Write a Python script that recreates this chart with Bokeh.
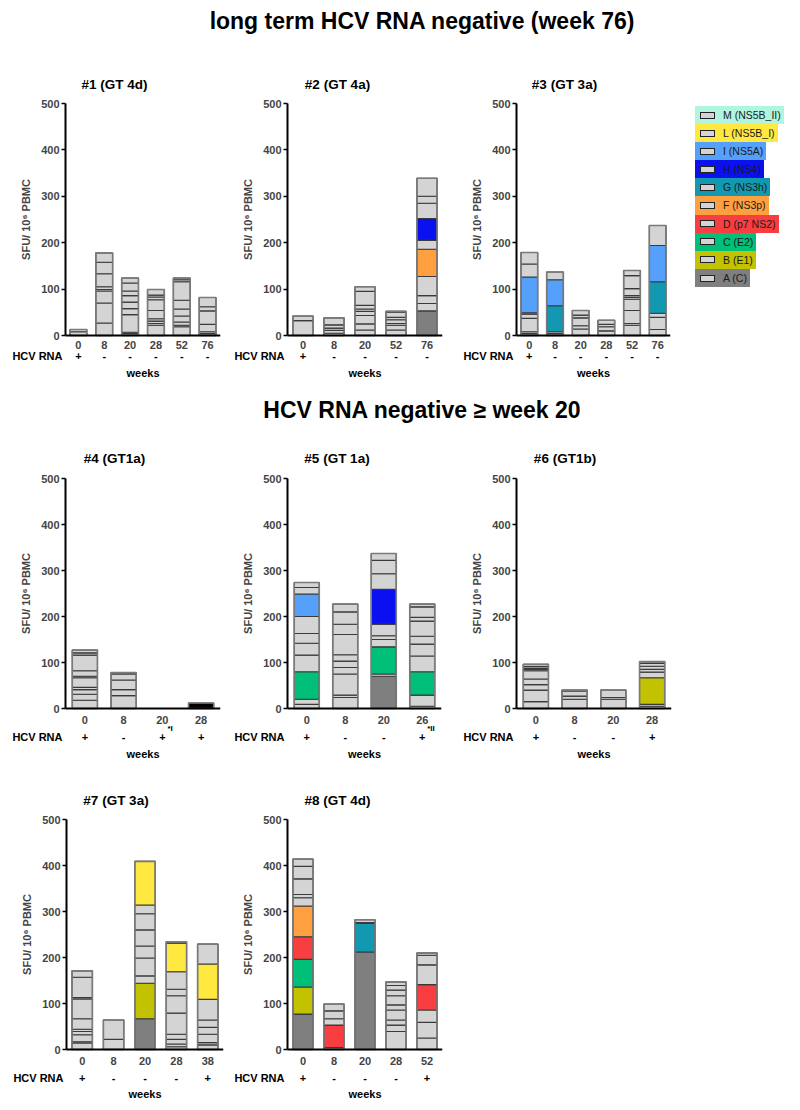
from bokeh.plotting import figure
from bokeh.models import Range1d, FixedTicker, LinearAxis, Div, ColumnDataSource
from bokeh.layouts import column, row
from bokeh.embed import file_html
from bokeh.resources import INLINE
from bokeh.core.properties import value

FONT = "Liberation Sans"

# ---------------- data ----------------
TITLE_1 = "long term HCV RNA negative (week 76)"
TITLE_2 = "HCV RNA negative \u2265 week 20"
Y_LABEL = "SFU/ 10\u2076 PBMC"
Y_TICKS = [0, 100, 200, 300, 400, 500]
X_TITLE = "weeks"
RNA_TITLE = "HCV RNA"

LEGEND_KEYS = ["M", "L", "I", "H", "G", "F", "D", "C", "B", "A"]
LEGEND_LABELS = ["M (NS5B_II)", "L (NS5B_I)", "I (NS5A)", "H (NS4)", "G (NS3h)",
                 "F (NS3p)", "D (p7 NS2)", "C (E2)", "B (E1)", "A (C)"]

# each bar: list of (segment top, antigen key); "-" = non-assigned pool
P1_NAME = "#1 (GT 4d)"
P1_WEEKS = ["0", "8", "20", "28", "52", "76"]
P1_RNA = ["+", "-", "-", "-", "-", "-"]
P1_BARS = [
    [(8, "-"), (13, "-")],
    [(27, "-"), (70, "-"), (96, "-"), (99, "-"), (105, "-"), (133, "-"), (158, "-"), (178, "-")],
    [(4, "-"), (7, "-"), (45, "-"), (58, "-"), (72, "-"), (86, "-"), (96, "-"), (113, "-"), (124, "-")],
    [(22, "-"), (26, "-"), (31, "-"), (36, "-"), (54, "-"), (77, "-"), (83, "-"), (87, "-"), (99, "-")],
    [(19, "-"), (22, "-"), (29, "-"), (42, "-"), (57, "-"), (76, "-"), (116, "-"), (120, "-"), (124, "-")],
    [(4, "-"), (8, "-"), (24, "-"), (53, "-"), (62, "-"), (82, "-")],
]
P1_NOTES = {}

P2_NAME = "#2 (GT 4a)"
P2_WEEKS = ["0", "8", "20", "52", "76"]
P2_RNA = ["+", "-", "-", "-", "-"]
P2_BARS = [
    [(32, "-"), (42, "-")],
    [(5, "-"), (11, "-"), (16, "-"), (23, "-"), (38, "-")],
    [(12, "-"), (25, "-"), (43, "-"), (52, "-"), (57, "-"), (65, "-"), (95, "-"), (105, "-")],
    [(12, "-"), (22, "-"), (26, "-"), (34, "-"), (39, "-"), (50, "-"), (52, "-")],
    [(53, "A"), (69, "-"), (86, "-"), (127, "-"), (186, "F"), (205, "-"), (252, "H"), (285, "-"), (300, "-"), (339, "-")],
]
P2_NOTES = {}

P3_NAME = "#3 (GT 3a)"
P3_WEEKS = ["0", "8", "20", "28", "52", "76"]
P3_RNA = ["+", "-", "-", "-", "-", "-"]
P3_BARS = [
    [(4, "-"), (8, "-"), (37, "-"), (46, "-"), (49, "-"), (126, "I"), (154, "-"), (179, "-")],
    [(4, "-"), (8, "-"), (64, "G"), (120, "I"), (137, "-")],
    [(14, "-"), (21, "-"), (38, "-"), (44, "-"), (54, "-")],
    [(10, "-"), (19, "-"), (24, "-"), (33, "-")],
    [(22, "-"), (26, "-"), (54, "-"), (78, "-"), (82, "-"), (86, "-"), (101, "-"), (129, "-"), (140, "-")],
    [(13, "-"), (39, "-"), (48, "-"), (116, "G"), (194, "I"), (237, "-")],
]
P3_NOTES = {}

P4_NAME = "#4 (GT1a)"
P4_WEEKS = ["0", "8", "20", "28"]
P4_RNA = ["+", "-", "+", "+"]
P4_BARS = [
    [(18, "-"), (31, "-"), (41, "-"), (46, "-"), (67, "-"), (70, "-"), (82, "-"), (116, "-"), (121, "-"), (127, "-")],
    [(28, "-"), (41, "-"), (62, "-"), (75, "-"), (78, "-")],
    [],
    [(12, "X")],
]
P4_NOTES = {3: "*I"}

P5_NAME = "#5 (GT 1a)"
P5_WEEKS = ["0", "8", "20", "26"]
P5_RNA = ["+", "-", "-", "+"]
P5_BARS = [
    [(9, "-"), (20, "-"), (80, "C"), (116, "-"), (142, "-"), (163, "-"), (200, "-"), (249, "I"), (263, "-"), (274, "-")],
    [(24, "-"), (29, "-"), (75, "-"), (89, "-"), (103, "-"), (117, "-"), (161, "-"), (183, "-"), (210, "-"), (227, "-")],
    [(70, "A"), (75, "-"), (134, "C"), (150, "-"), (158, "-"), (183, "-"), (259, "H"), (293, "-"), (322, "-"), (337, "-")],
    [(5, "-"), (29, "-"), (80, "C"), (114, "-"), (140, "-"), (157, "-"), (190, "-"), (198, "-"), (221, "-"), (227, "-")],
]
P5_NOTES = {4: "*II"}

P6_NAME = "#6 (GT1b)"
P6_WEEKS = ["0", "8", "20", "28"]
P6_RNA = ["+", "-", "-", "+"]
P6_BARS = [
    [(15, "-"), (40, "-"), (52, "-"), (64, "-"), (82, "-"), (85, "-"), (87, "-"), (91, "-"), (96, "-")],
    [(20, "-"), (27, "-"), (38, "-"), (40, "-")],
    [(20, "-"), (24, "-"), (40, "-")],
    [(5, "-"), (9, "-"), (67, "B"), (79, "-"), (85, "-"), (92, "-"), (98, "-"), (102, "-")],
]
P6_NOTES = {}

P7_NAME = "#7 (GT 3a)"
P7_WEEKS = ["0", "8", "20", "28", "38"]
P7_RNA = ["+", "-", "-", "-", "+"]
P7_BARS = [
    [(14, "-"), (17, "-"), (32, "-"), (39, "-"), (44, "-"), (67, "-"), (110, "-"), (113, "-"), (157, "-"), (171, "-")],
    [(22, "-"), (64, "-")],
    [(67, "A"), (144, "B"), (160, "-"), (199, "-"), (225, "-"), (260, "-"), (295, "-"), (314, "-"), (409, "L")],
    [(6, "-"), (12, "-"), (22, "-"), (33, "-"), (79, "-"), (117, "-"), (131, "-"), (169, "-"), (231, "L"), (234, "-")],
    [(10, "-"), (15, "-"), (33, "-"), (48, "-"), (64, "-"), (109, "-"), (186, "L"), (229, "-")],
]
P7_NOTES = {}

P8_NAME = "#8 (GT 4d)"
P8_WEEKS = ["0", "8", "20", "28", "52"]
P8_RNA = ["+", "-", "-", "-", "+"]
P8_BARS = [
    [(77, "A"), (136, "B"), (196, "C"), (245, "D"), (312, "F"), (330, "-"), (337, "-"), (371, "-"), (398, "-"), (414, "-")],
    [(4, "-"), (53, "D"), (67, "-"), (84, "-"), (99, "-")],
    [(212, "A"), (274, "G"), (276, "-"), (282, "-")],
    [(39, "-"), (53, "-"), (64, "-"), (86, "-"), (97, "-"), (117, "-"), (129, "-"), (139, "-"), (147, "-")],
    [(25, "-"), (59, "-"), (86, "-"), (141, "D"), (184, "-"), (205, "-"), (210, "-")],
]
P8_NOTES = {}

# ---------------- styles ----------------
COLORS = {
    "-": "#d4d4d4", "X": "#000000",
    "A": "#7f7f7f", "B": "#c2c200", "C": "#00bf78", "D": "#f83e40",
    "F": "#ffa040", "G": "#1398b2", "H": "#0a10f0", "I": "#55a0fa",
    "L": "#ffe840", "M": "#b0f5e0",
}
TOP_PAD = 8  # px of frame kept above the 500 tick so its label is not clipped


def bold(size="11px"):
    return dict(text_font=value(FONT), text_font_size=size,
                text_font_style="bold", text_color="#000000")


def build_panel(name, weeks, rna, bars, notes, geo):
    # geo: page-pixel layout of the panel
    fig_x, axis_x, end_x, fig_w, fig_y, y500, y0, fig_h, wk_std, rna_dy, lab_dy, t_std = geo
    n = len(weeks)
    xs = list(range(1, n + 1))
    s = (end_x - axis_x) / n          # px per category
    k = (y0 - y500) / 500.0           # px per SFU
    frame_l = fig_x
    frame_b = fig_y + fig_h - 2
    x_start = 0.5 - (axis_x - frame_l) / s
    y_start = -(frame_b - y0) / k
    y_end = 500 + TOP_PAD / k

    p = figure(width=fig_w, height=fig_h,
               x_range=Range1d(x_start, n + 0.5), y_range=Range1d(y_start, y_end),
               x_axis_type=None, y_axis_type=None, toolbar_location=None,
               output_backend="svg", title=name,
               min_border_left=0, min_border_right=fig_x + fig_w - end_x,
               min_border_top=y500 - TOP_PAD - fig_y, min_border_bottom=2)
    p.outline_line_color = None
    p.title.align = "center"
    p.title.offset = (axis_x - frame_l) / 2 - 5
    p.title.standoff = t_std
    p.title.text_font = FONT
    p.title.text_font_size = "13.5px"
    p.title.text_font_style = "bold"
    p.title.text_color = "#000000"

    sx, sb, st, sc = [], [], [], []
    ox, ot = [], []
    for i, segs in enumerate(bars):
        prev = 0
        for topv, key in segs:
            sx.append(i + 1)
            sb.append(prev)
            st.append(topv)
            sc.append(COLORS[key])
            prev = topv
        if prev > 0:
            ox.append(i + 1)
            ot.append(prev)
    src = ColumnDataSource(dict(x=sx, bottom=sb, top=st, color=sc))
    p.vbar(x="x", bottom="bottom", top="top", width=0.65, fill_color="color",
           line_color="#3a3a3a", line_width=1.1, source=src)
    p.vbar(x=ox, bottom=0, top=ot, width=0.65, fill_color=None,
           line_color="#7a7a7a", line_width=1.6)

    ya = LinearAxis(ticker=FixedTicker(ticks=Y_TICKS), axis_label=Y_LABEL,
                    fixed_location=0.5, bounds=(0, 500))
    ya.axis_line_width = 2
    ya.major_tick_line_width = 1.5
    ya.major_tick_out = 4
    ya.major_tick_in = 0
    ya.minor_tick_line_color = None
    ya.major_label_standoff = 2
    ya.major_label_text_font = FONT
    ya.major_label_text_font_size = "11px"
    ya.major_label_text_font_style = "bold"
    ya.axis_label_text_font = FONT
    ya.axis_label_text_font_size = "11px"
    ya.axis_label_text_font_style = "bold"
    ya.axis_label_standoff = 6
    p.add_layout(ya, "left")

    xa = LinearAxis(ticker=FixedTicker(ticks=xs),
                    major_label_overrides={x: w for x, w in zip(xs, weeks)},
                    fixed_location=0, bounds=(0.5, n + 0.5))
    xa.major_tick_line_color = None
    xa.minor_tick_line_color = None
    xa.major_tick_out = 0
    xa.major_tick_in = 0
    xa.major_label_standoff = wk_std
    xa.major_label_text_font = FONT
    xa.major_label_text_font_size = "11px"
    xa.major_label_text_font_style = "bold"
    xa.axis_line_width = 2
    p.add_layout(xa, "below")

    y_rna = -rna_dy / k
    p.text(x=xs, y=[y_rna] * n, text=rna, text_align="center",
           text_baseline="middle", **bold())
    p.text(x=[0.5], y=[y_rna], text=[RNA_TITLE], x_offset=-3, text_align="right",
           text_baseline="middle", **bold())
    p.text(x=[(n + 1) / 2], y=[-lab_dy / k], text=[X_TITLE], text_align="center",
           text_baseline="middle", **bold())
    if notes:
        nx = list(notes.keys())
        p.text(x=nx, y=[y_rna + 8 / k] * len(nx), text=list(notes.values()),
               x_offset=5, text_align="left", text_baseline="middle", **bold("8px"))
    return p


def build_legend(width, height, pad_top):
    rows = []
    for key, lab in zip(LEGEND_KEYS, LEGEND_LABELS):
        rows.append(
            f'<div style="background:{COLORS[key]};height:18.1px;line-height:18.1px;'
            f'width:max-content;padding-right:3px;white-space:nowrap;">'
            f'<span style="display:inline-block;box-sizing:border-box;width:15px;height:7px;'
            f'border:1px solid #222;background:#d4d4d4;margin-left:5px;margin-right:8px;'
            f'vertical-align:middle;position:relative;top:-1px;"></span>{lab}</div>')
    html = (f'<div style="padding-top:{pad_top}px;padding-left:5px;font-family:\'{FONT}\';'
            f'font-size:10.5px;color:#1a1a1a;">' + "".join(rows) + "</div>")
    return Div(text=html, width=width, height=height, margin=(0, 0, 0, 0))


# ---------------- layout (page pixels) ----------------
# per column: fig_x, axis_x, end_x, fig_w
# per row: fig_y, y500, y0, fig_h, wk_std, rna_dy, lab_dy, title_standoff
G1 = [(8, 65, 220, 224), (232, 287, 442, 226), (458, 516, 670, 232)]
G2 = [(8, 65, 220, 224), (232, 287, 441, 226), (458, 516, 671, 232)]
G3 = [(8, 66, 223, 224), (232, 287, 442, 226)]
R1 = (50, 103, 335, 340, 5, 20, 37, 8)
R2 = (430, 478, 708, 340, 7, 28, 45, 10)
R3 = (770, 819, 1049, 332, 7, 28, 44, 8)


def geo(g, r):
    return tuple(g) + tuple(r)


p1 = build_panel(P1_NAME, P1_WEEKS, P1_RNA, P1_BARS, P1_NOTES, geo(G1[0], R1))
p2 = build_panel(P2_NAME, P2_WEEKS, P2_RNA, P2_BARS, P2_NOTES, geo(G1[1], R1))
p3 = build_panel(P3_NAME, P3_WEEKS, P3_RNA, P3_BARS, P3_NOTES, geo(G1[2], R1))
lg = build_legend(102, 340, 56)

p4 = build_panel(P4_NAME, P4_WEEKS, P4_RNA, P4_BARS, P4_NOTES, geo(G2[0], R2))
p5 = build_panel(P5_NAME, P5_WEEKS, P5_RNA, P5_BARS, P5_NOTES, geo(G2[1], R2))
p6 = build_panel(P6_NAME, P6_WEEKS, P6_RNA, P6_BARS, P6_NOTES, geo(G2[2], R2))

p7 = build_panel(P7_NAME, P7_WEEKS, P7_RNA, P7_BARS, P7_NOTES, geo(G3[0], R3))
p8 = build_panel(P8_NAME, P8_WEEKS, P8_RNA, P8_BARS, P8_NOTES, geo(G3[1], R3))

head_style = (f"font-family:'{FONT}';font-weight:bold;font-size:23px;"
              "text-align:center;box-sizing:border-box;width:784px;padding-left:44px;color:#000;")
d1 = Div(text=f"<div style=\"{head_style}line-height:26px;\">{TITLE_1}</div>",
         width=784, height=42, margin=(0, 0, 0, 0))
d2 = Div(text=f"<div style=\"{head_style}line-height:40px;\">{TITLE_2}</div>",
         width=784, height=40, margin=(0, 0, 0, 0))

layout = column(d1, row(p1, p2, p3, lg), d2, row(p4, p5, p6), row(p7, p8),
                margin=(8, 0, 0, 8))

open("out.html", "w").write(file_html(layout, INLINE))
